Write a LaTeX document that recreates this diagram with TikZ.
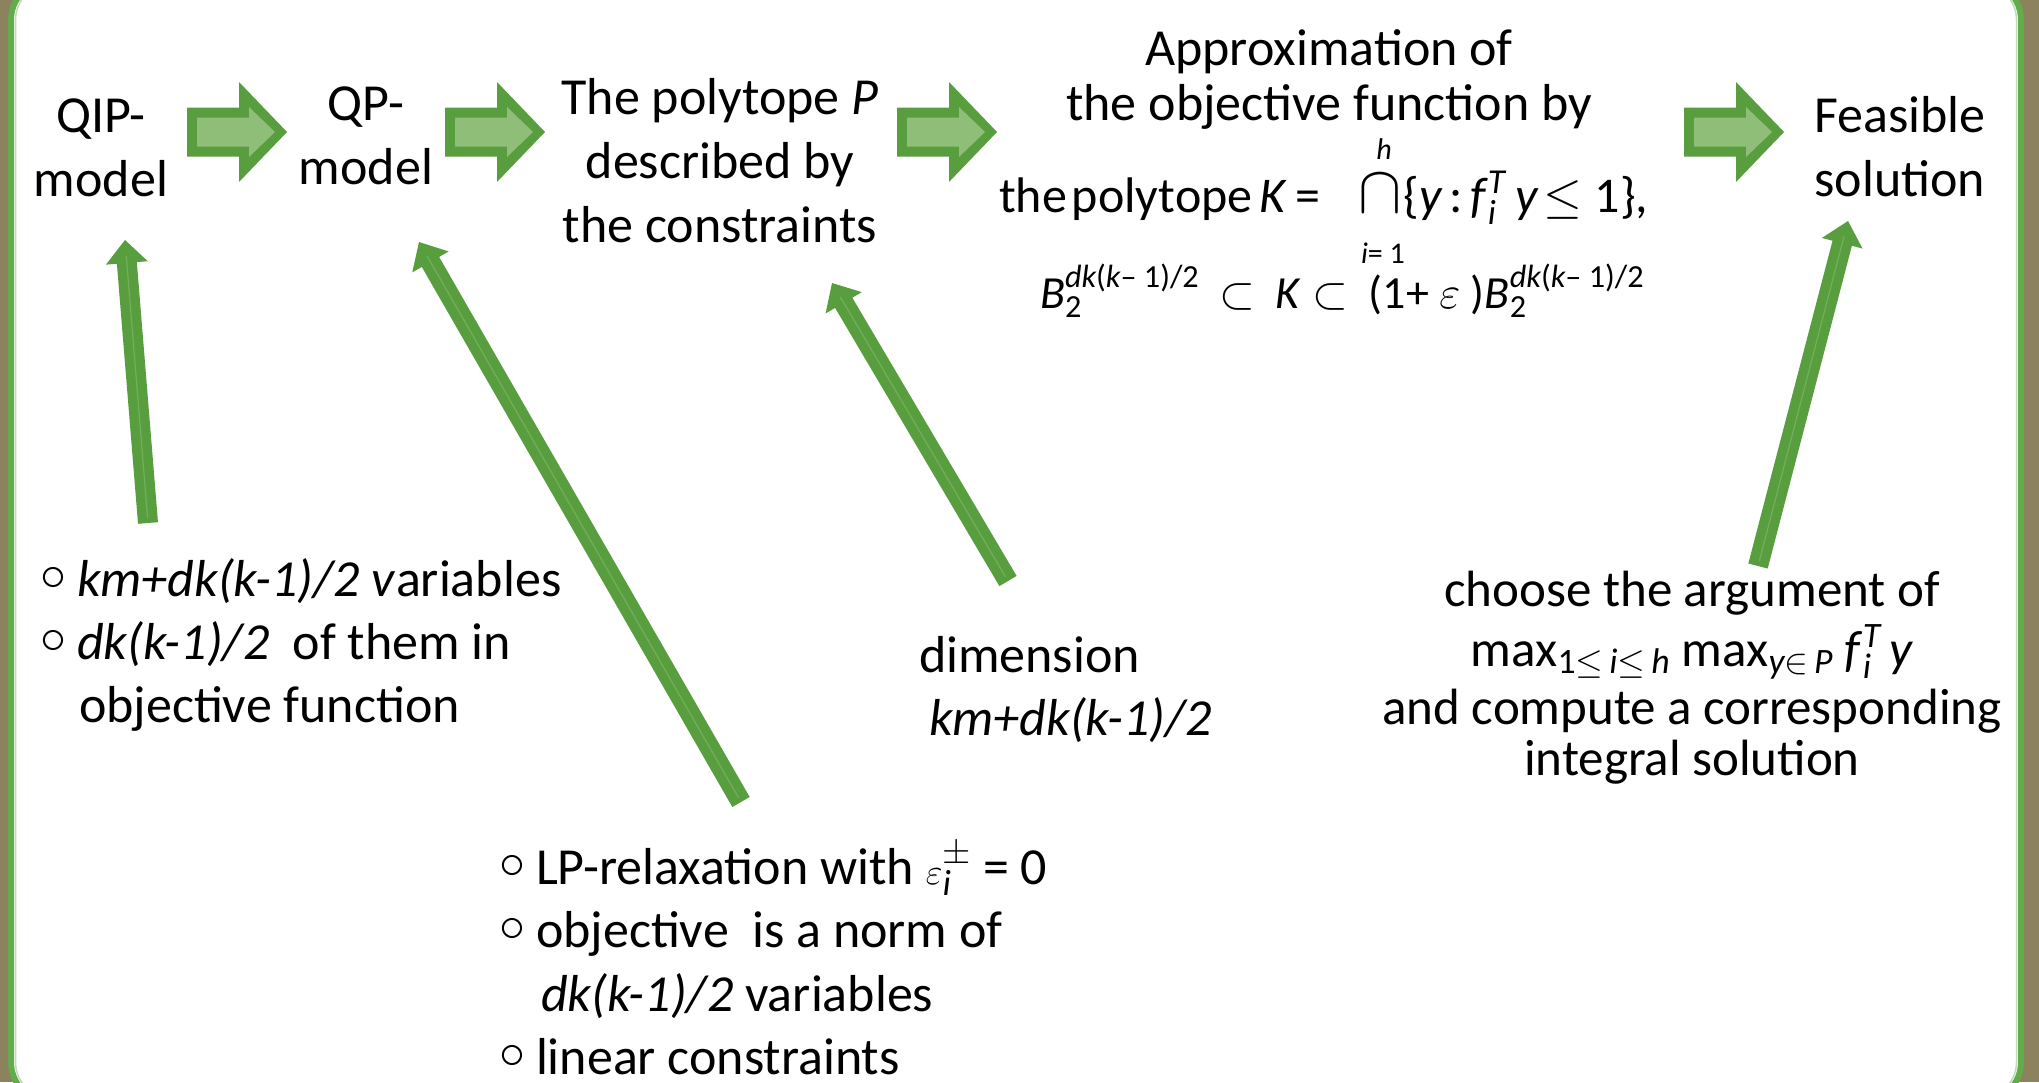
\RequirePackage{fix-cm}
\documentclass[tikz,border=0pt]{standalone}
\usepackage{fontspec}
\usepackage{amsmath}
\usepackage{graphicx}
\setmainfont{Carlito}
\usetikzlibrary{calc}
\definecolor{gdark}{RGB}{89,158,62}
\definecolor{glight}{RGB}{143,190,120}
\definecolor{gline}{RGB}{112,176,90}
\definecolor{bgbrown}{RGB}{140,130,94}
\definecolor{bordg}{RGB}{98,172,76}
\newcommand\mi[1]{\text{\itshape #1}}
\newcommand\mr[1]{\text{#1}}
\newcommand\st{\rule{0pt}{42pt}}
\newcommand\bul{\makebox[37pt][l]{\raisebox{6pt}{$\circ$}}}
\newcommand\thinarr[3]{%
  \coordinate (#3b) at ($(#2)!23pt!(#1)$);
  \draw[gdark, line width=20pt] (#1) -- ($(#2)!22pt!(#1)$);
  \fill[gdark] (#2) -- ($(#3b)!21pt!90:(#2)$) -- ($(#3b)!21pt!-90:(#2)$) -- cycle;
  \draw[gline, line width=1.2pt] ($(#1)!5pt!(#2)$) -- ($(#2)!16pt!(#1)$);
}
\tikzset{
  txt/.style={inner sep=0pt, outer sep=0pt, font=\fontsize{52}{64}\selectfont, align=center},
  smalltxt/.style={inner sep=0pt, outer sep=0pt, font=\fontsize{30}{36}\selectfont},
  blockarrow/.pic={
    \fill[gdark] (0,-24.5) -- (52,-24.5) -- (52,-50) -- (100,0) -- (52,50) -- (52,24.5) -- (0,24.5) -- cycle;
    \fill[glight] (10,-14.5) -- (62,-14.5) -- (62,-25) -- (88,0) -- (62,25) -- (62,14.5) -- (10,14.5) -- cycle;
  }
}
\begin{document}
\begin{tikzpicture}[x=1pt,y=-1pt]
\useasboundingbox (0,0) rectangle (2039,1082);
\clip (0,0) rectangle (2039,1082);
% background and panel
\fill[bgbrown] (0,0) rectangle (2039,1082);
\fill[white, rounded corners=40pt] (11,-20) rectangle (2021,1102);
\draw[bordg, line width=6pt, rounded corners=40pt] (11,-20) rectangle (2021,1102);
\draw[glight!55!white, line width=1.5pt, rounded corners=36pt] (15.5,-16) rectangle (2016.5,1098);

% text nodes
\node[txt, anchor=north] (qip) at (101,90) {\st QIP-\\model};
\node[txt, anchor=north] (qp) at (366,78) {\st QP-\\model};
\node[txt, anchor=north] (poly) at (720,72) {\st The polytope \textit{P}\\described by\\the constraints};
\node[txt, anchor=north, font=\fontsize{52}{55}\selectfont] (approx) at (1329,23) {\st Approximation of\\the objective function by};
\node[txt, anchor=base west, font=\fontsize{50}{60}\selectfont] (polyK) at (999,212) {the\hspace{5pt}polytope\hspace{7pt}\textit{K}\hspace{8pt}=\hspace{38pt}\scalebox{1.3}[1.35]{$\cap$}\hspace{2pt}\{\textit{y}\hspace{7pt}:\hspace{7pt}\textit{f}$_{\mi{i}}^{\mi{T}}$\hspace{10pt}\textit{y}\hspace{5pt}$\leq$\hspace{12pt}1\},};
\node[smalltxt, anchor=base] (hlim) at (1384,159) {\textit{h}};
\node[smalltxt, anchor=base] (ilim) at (1383,263) {\textit{i}= 1};
\node[txt, anchor=base west, font=\fontsize{46}{58}\selectfont] (incl) at (1040,308) {$\mi{B}_{\mr{2}}^{\mi{dk}\mr{(}\mi{k}\mr{– 1)/2}}\,\subset\,\mi{K}\subset\,\mr{(1+ }\varepsilon\mr{ )}\mi{B}_{\mr{2}}^{\mi{dk}\mr{(}\mi{k}\mr{– 1)/2}}$};
\node[txt, anchor=north] (feas) at (1900,90) {\st Feasible\\solution};
\node[txt, anchor=north west, align=left, font=\fontsize{52}{63}\selectfont] (leftl) at (40,554) {\st\bul\textit{km+dk(k-1)/2 v}ariables\\\bul\textit{dk(k-1)/2}\ \ of them in\\\hspace*{39pt}objective function};
\node[txt, anchor=north west, align=left, font=\fontsize{52}{63}\selectfont] (dim) at (919,630) {\st dimension\\\hspace*{10pt}\textit{km+dk(k-1)/2}};
\node[txt, anchor=north, font=\fontsize{51}{56}\selectfont] (choose) at (1692,564) {\st choose the argument of\\[4pt]max$_{\mr{1}\leq\,\mi{i}\leq\,\mi{h}}$ max$_{\mi{y}\in\,\mi{P}}$ \textit{f}$_{\mi{i}}^{\mi{T}}$\,\textit{y}\\[2pt]and compute a corresponding\\[-5pt]integral solution};
\node[txt, anchor=north west, align=left, font=\fontsize{52}{63.5}\selectfont] (bot) at (499,842) {\st\bul LP-relaxation with ${\scriptstyle\varepsilon}_{\mi{i}}^{\pm}$ = 0\\\bul objective\ \ is a norm of\\\hspace*{42pt}\textit{dk(k-1)/2} variables\\\bul linear constraints};

% block arrows
\pic at (187,132) {blockarrow};
\pic at (445,132) {blockarrow};
\pic at (897,132) {blockarrow};
\pic at (1684,132) {blockarrow};

% thin arrows
\coordinate (s1) at (148,523); \coordinate (t1) at (125,240);
\coordinate (s2) at (741,802); \coordinate (t2) at (419,242);
\coordinate (s3) at (1008,581); \coordinate (t3) at (832,283);
\coordinate (s4) at (1758,566); \coordinate (t4) at (1848,221);
\thinarr{s1}{t1}{h1}
\thinarr{s2}{t2}{h2}
\thinarr{s3}{t3}{h3}
\thinarr{s4}{t4}{h4}
\end{tikzpicture}
\end{document}
